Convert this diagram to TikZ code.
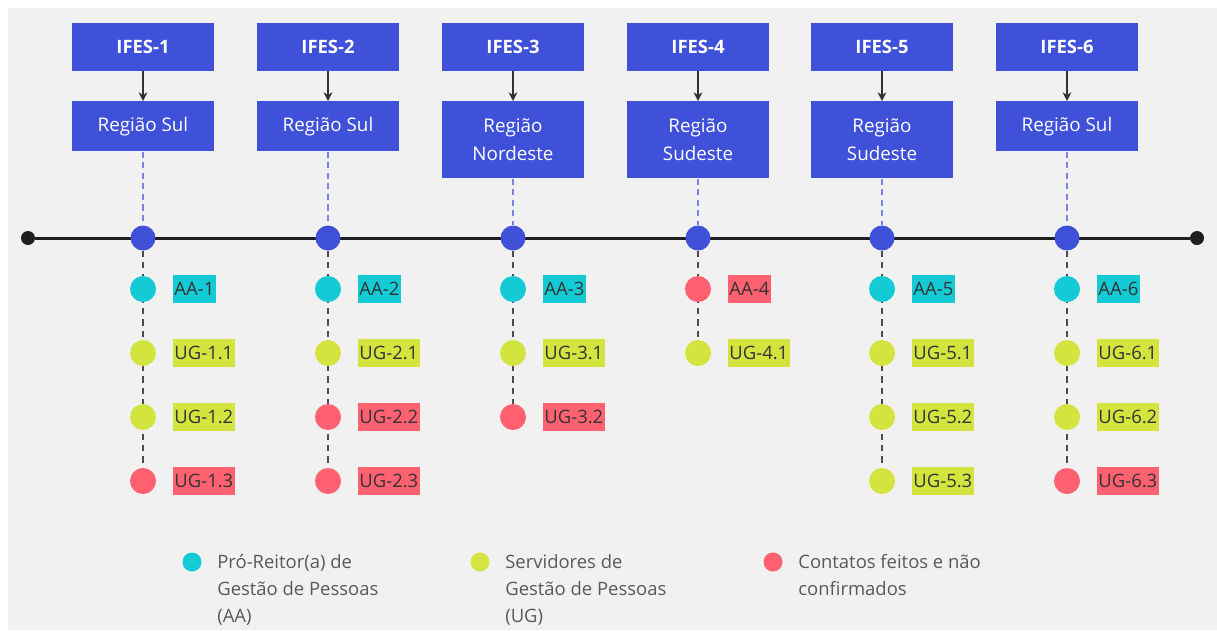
\documentclass[tikz,border=0pt]{standalone}
\usepackage{fontspec}
\setmainfont{Open Sans}
\usetikzlibrary{arrows.meta,positioning}

\definecolor{ifesblue}{HTML}{3F51D8}
\definecolor{guiablue}{HTML}{7484E6}
\definecolor{aateal}{HTML}{14CAD4}
\definecolor{uglime}{HTML}{D3E43F}
\definecolor{nored}{HTML}{FF6170}
\definecolor{bggray}{HTML}{F1F1F1}
\definecolor{tinta}{HTML}{333333}

\pgfdeclarelayer{bg}
\pgfsetlayers{bg,main}

\tikzset{
  ifes/.style={fill=ifesblue, text=white, font=\bfseries\fontsize{10.5}{12}\selectfont,
    minimum width=2.86cm, minimum height=0.96cm, inner sep=0pt},
  regiao/.style={fill=ifesblue, text=white, align=center, anchor=north,
    minimum width=2.86cm, inner sep=0pt, font=\fontsize{10.7}{15.9}\selectfont},
  marco/.style={circle, fill=ifesblue, minimum size=0.5cm, inner sep=0pt},
  enddot/.style={circle, fill=black!88, minimum size=0.28cm, inner sep=0pt},
  ponto/.style={circle, minimum size=0.52cm, inner sep=0pt},
  etiq/.style={text=tinta, inner xsep=1pt, inner ysep=0pt, minimum height=0.56cm},
  seta/.style={-{Stealth[length=5pt,width=5pt]}, tinta, line width=0.7pt},
  guia/.style={guiablue, line width=0.8pt, dash pattern=on 3.5pt off 2.5pt},
  haste/.style={black!70, line width=1.1pt, dash pattern=on 3.5pt off 3pt},
  legtext/.style={text=black!65, align=left, anchor=north west, inner sep=0pt}
}

\begin{document}
\begin{tikzpicture}[x=0.02cm, y=-0.02cm, font=\fontsize{10.5}{15.3}\selectfont]
\useasboundingbox (0,0) rectangle (1217,630);
\begin{pgfonlayer}{bg}
  \fill[white] (0,0) rectangle (1217,630);
  \fill[bggray] (8,8) rectangle (1217,630);
\end{pgfonlayer}

% linha do tempo
\node[enddot] (L) at (28,238) {};
\node[enddot] (R) at (1197,238) {};
\begin{pgfonlayer}{bg}
  \draw[black!88, line width=1.7pt] (L) -- (R);
\end{pgfonlayer}

% IFES e regioes
\foreach \k/\x/\reg/\h in {1/143/Região Sul/1.0, 2/328/Região Sul/1.0,
    3/513/Região\\Nordeste/1.54, 4/698/Região\\Sudeste/1.54,
    5/882/Região\\Sudeste/1.54, 6/1067/Região Sul/1.0} {
  \node[ifes] (i\k) at (\x,47) {IFES-\k};
  \node[regiao, minimum height=\h cm] (r\k) at (\x,101) {\reg};
  \node[marco] (m\k) at (\x,238) {};
  \draw[seta] (i\k) -- (r\k);
  \begin{pgfonlayer}{bg}
    \draw[guia] (r\k) -- (m\k);
  \end{pgfonlayer}
}

% contatos
\foreach \k/\r/\lbl/\c in {1/1/AA-1/aateal, 1/2/UG-1.1/uglime, 1/3/UG-1.2/uglime, 1/4/UG-1.3/nored,
    2/1/AA-2/aateal, 2/2/UG-2.1/uglime, 2/3/UG-2.2/nored, 2/4/UG-2.3/nored,
    3/1/AA-3/aateal, 3/2/UG-3.1/uglime, 3/3/UG-3.2/nored,
    4/1/AA-4/nored, 4/2/UG-4.1/uglime,
    5/1/AA-5/aateal, 5/2/UG-5.1/uglime, 5/3/UG-5.2/uglime, 5/4/UG-5.3/uglime,
    6/1/AA-6/aateal, 6/2/UG-6.1/uglime, 6/3/UG-6.2/uglime, 6/4/UG-6.3/nored} {
  \pgfmathsetmacro\yy{289+64*(\r-1)}
  \node[ponto, fill=\c] (p\k-\r) at (m\k |- 0,\yy) {};
  \node[etiq, fill=\c, right=0.32cm of p\k-\r] (e\k-\r) {\lbl};
}
\begin{pgfonlayer}{bg}
  \foreach \k/\n in {1/4, 2/4, 3/3, 4/2, 5/4, 6/4}
    \draw[haste] (m\k) -- (p\k-\n);
\end{pgfonlayer}

% legenda
\node[ponto, fill=aateal, minimum size=0.38cm] (k1) at (192,562) {};
\node[ponto, fill=uglime, minimum size=0.38cm] (k2) at (480,562) {};
\node[ponto, fill=nored, minimum size=0.38cm] (k3) at (773,562) {};
\node[legtext] (k1t) at (217,554) {Pró-Reitor(a) de\\Gestão de Pessoas\\(AA)};
\node[legtext] (k2t) at (505,554) {Servidores de\\Gestão de Pessoas\\(UG)};
\node[legtext] (k3t) at (798,554) {Contatos feitos e não\\confirmados};
\end{tikzpicture}
\end{document}
